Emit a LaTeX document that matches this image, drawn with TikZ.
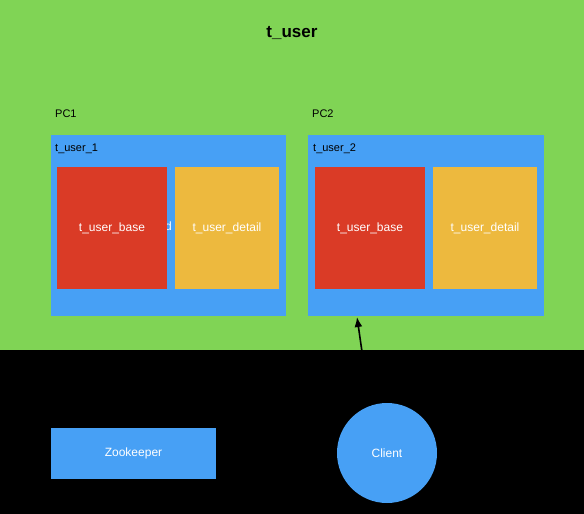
\documentclass[tikz,border=0pt]{standalone}
\usepackage{fontspec}
\setmainfont{Liberation Sans}
\usetikzlibrary{arrows.meta}
\definecolor{grn}{HTML}{80D455}
\definecolor{blu}{HTML}{47A0F5}
\definecolor{rd}{HTML}{DA3B26}
\definecolor{ylw}{HTML}{EDB93E}
\begin{document}
\begin{tikzpicture}[x=1pt,y=-1pt,
    pc/.style={fill=blu,inner sep=0,minimum width=235pt,minimum height=181pt},
    tbl/.style={inner sep=0,text=white,font=\fontsize{12}{14}\selectfont,minimum height=122pt},
    lbl/.style={anchor=west,inner sep=0,font=\fontsize{11}{13}\selectfont}]
    \fill[black] (0,0) rectangle (584,514) ;
    \useasboundingbox (0,0) rectangle (584,514) ;
    \node[fill=grn,inner sep=0,minimum width=584pt,minimum height=350pt] (tuser) at (292,175) {} ;
    \node[font=\bfseries\fontsize{17}{20}\selectfont] (title) at (292,33) {t\_user} ;
    \node[lbl] (pc1) at (55,114) {PC1} ;
    \node[lbl] (pc2) at (312,114) {PC2} ;
    \node[pc] (part1) at (168.5,225.5) {} ;
    \node[pc,minimum width=236pt] (part2) at (426,225.5) {} ;
    \node[lbl] (name1) at (55,149) {t\_user\_1} ;
    \node[lbl] (name2) at (313,149) {t\_user\_2} ;
    \node[lbl,text=white,font=\fontsize{12}{14}\selectfont] (hidden) at (165,226) {d} ;
    \node[tbl,fill=rd,minimum width=110pt] (base1) at (112,228) {t\_user\_base} ;
    \node[tbl,fill=ylw,minimum width=104pt] (detail1) at (227,228) {t\_user\_detail} ;
    \node[tbl,fill=rd,minimum width=110pt] (base2) at (370,228) {t\_user\_base} ;
    \node[tbl,fill=ylw,minimum width=104pt] (detail2) at (485,228) {t\_user\_detail} ;
    \node[fill=blu,inner sep=0,minimum width=165pt,minimum height=51pt,text=white,font=\fontsize{12}{14}\selectfont] (zk) at (133.5,453.5) {Zookeeper} ;
    \node[circle,fill=blu,inner sep=0,minimum size=100pt,text=white,font=\fontsize{12}{14}\selectfont] (client) at (387,453) {Client} ;
    \coordinate (tip) at (357,317) ;
    \draw[-{Latex[length=10pt,width=8pt]},line width=1.6pt] (client.110) -- (tip) ;
\end{tikzpicture}
\end{document}
